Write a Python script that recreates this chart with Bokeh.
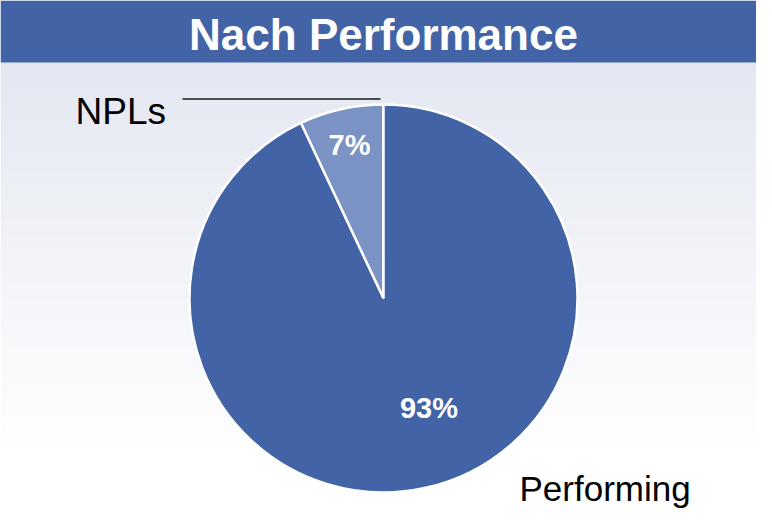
import math
from bokeh.plotting import figure
from bokeh.models import Range1d, ColumnDataSource
from bokeh.embed import file_html
from bokeh.resources import INLINE
from bokeh.core.properties import value

# ---- data ----
title_text = "Nach Performance"
categories = ["NPLs", "Performing"]
values = [7, 93]
pct_labels = ["7%", "93%"]

# ---- layout / style ----
W, H = 756, 509
FONT = "Liberation Sans"
BLUE = "#4264A6"
LIGHT = "#7A92C4"
slice_colors = [LIGHT, BLUE]
cx, cy, R = 383, 211, 194

p = figure(width=W, height=H, output_backend="svg", toolbar_location=None,
           x_range=Range1d(0, W), y_range=Range1d(0, H),
           x_axis_location=None, y_axis_location=None, min_border=0,
           tools="")
p.grid.visible = False
p.outline_line_color = None
p.background_fill_color = "white"
p.border_fill_color = "white"

# gradient background (style only)
top_c = (227, 231, 241)
g_top, g_bot = 447, 52
n = 80
bt, bb, bc = [], [], []
for i in range(n):
    t0 = g_top - (g_top - g_bot) * i / n
    t1 = g_top - (g_top - g_bot) * (i + 1) / n
    f = (i + 0.5) / n
    c = tuple(int(round(top_c[k] + (255 - top_c[k]) * f)) for k in range(3))
    bt.append(t0 + 0.5)
    bb.append(t1)
    bc.append("#%02x%02x%02x" % c)
p.quad(left=0, right=W, top=bt, bottom=bb, fill_color=bc, line_color=None)

# title bar
p.quad(left=0, right=W, top=H, bottom=447, fill_color=BLUE, line_color=None)
p.text(x=[383], y=[475], text=[title_text], text_color="white",
       text_font=value(FONT), text_font_size="44px", text_font_style="bold",
       text_align="center", text_baseline="alphabetic")

# pie
total = float(sum(values))
starts, ends = [], []
acc = 0.0
for v in values:
    s = math.pi / 2 + 2 * math.pi * acc / total
    acc += v
    e = math.pi / 2 + 2 * math.pi * acc / total
    starts.append(s)
    ends.append(e)
src = ColumnDataSource(dict(cat=categories, val=values, start=starts, end=ends,
                            color=slice_colors))
p.wedge(x=cx, y=cy, radius=R, start_angle="start", end_angle="end",
        direction="anticlock", fill_color="color", line_color="white",
        line_width=2.5, source=src)

# percentage labels (positions relative to pie centre)
pct_offsets = [(-34, 154), (45.5, -109)]
p.text(x=[cx + dx for dx, dy in pct_offsets], y=[cy + dy for dx, dy in pct_offsets],
       text=pct_labels, text_color="white", text_font=value(FONT),
       text_font_size="29px", text_font_style="bold",
       text_align="center", text_baseline="alphabetic")

# category labels
p.text(x=[75], y=[398], text=[categories[0]], text_color="black",
       text_font=value(FONT), text_font_size="37px",
       text_align="left", text_baseline="alphabetic")
p.line(x=[182, 380], y=[410.5, 410.5], line_color="#1a1a1a", line_width=1.5)
p.text(x=[519], y=[21], text=[categories[1]], text_color="black",
       text_font=value(FONT), text_font_size="35px",
       text_align="left", text_baseline="alphabetic")

open("out.html", "w").write(file_html(p, INLINE))
